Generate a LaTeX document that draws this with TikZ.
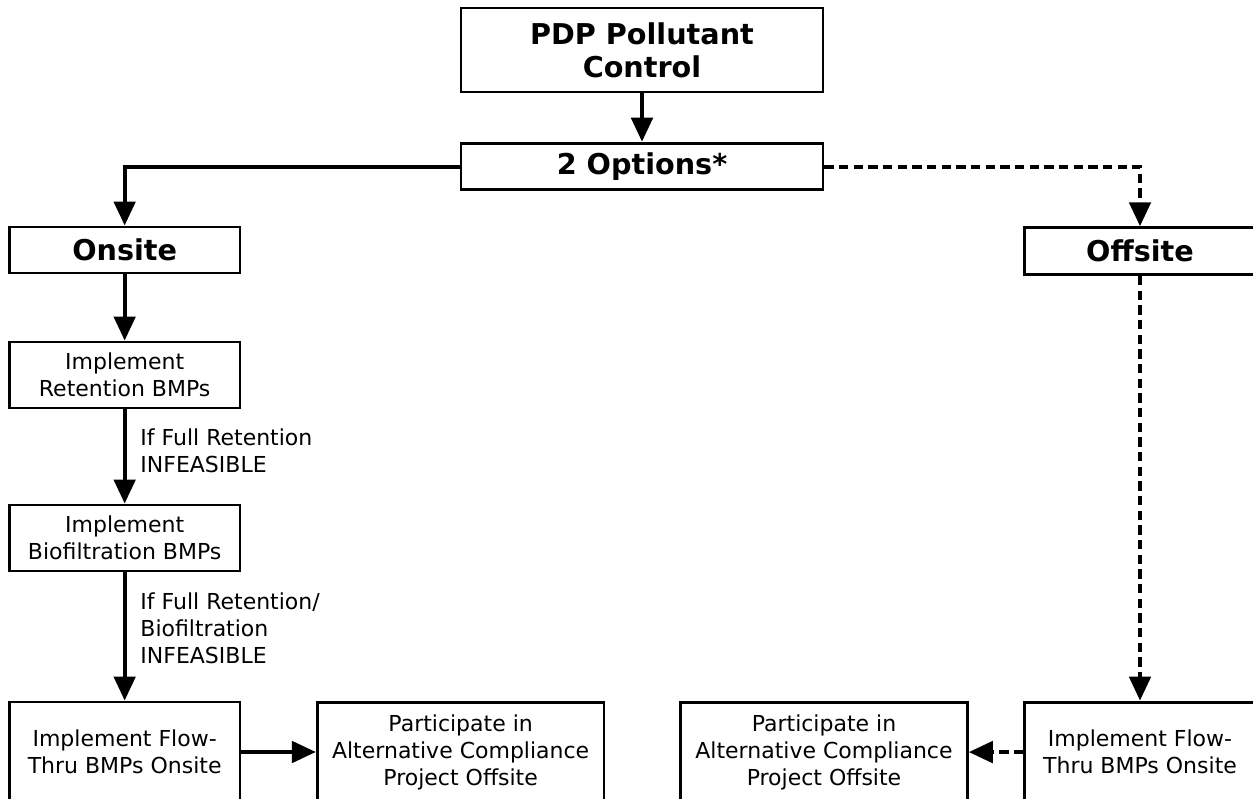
\documentclass[tikz,border=0pt]{standalone}
\usepackage{fontspec}
\setmainfont{DejaVu Sans}
\usepackage{tikz}
\usetikzlibrary{positioning, arrows.meta}
\tikzstyle{arrow} = [line width=3pt,-{Triangle[width=16pt,length=18pt]}]
\tikzstyle{darrow} = [arrow, dash pattern=on 7pt off 4pt]
\tikzstyle{hblock} = [rectangle, draw, line width=2.2pt, inner sep=0pt,
font=\fontsize{21.5}{25}\selectfont\bfseries, align=center]
\tikzstyle{sblock} = [rectangle, draw, line width=2.2pt, inner sep=0pt,
font=\fontsize{16.5}{20.25}\selectfont, align=center, minimum width=173pt]
\tikzstyle{cond} = [anchor=west, align=left, font=\fontsize{16.5}{20.25}\selectfont]

\begin{document}
\begin{tikzpicture}[x=0.75pt, y=-0.75pt]
    \useasboundingbox (0,0) rectangle (1253,799);
    \node (Control) [hblock, minimum width=271.5pt, minimum height=63pt] at (642,50) {PDP Pollutant\\Control};
    \node (Options) [hblock, minimum width=271.5pt, minimum height=35pt, below of=Control, node distance=87.4pt] {2 Options*};
    \node (Onsite) [hblock, minimum width=173pt, minimum height=34.5pt, below of=Options, node distance=62.6pt, xshift=-388pt] {Onsite};
    \node (Offsite) [hblock, minimum width=173pt, minimum height=35pt, below of=Options, node distance=63.4pt, xshift=373.5pt] {Offsite};
    \node (Retention) [sblock, minimum height=49.5pt, below of=Onsite, node distance=93.75pt] {Implement\\Retention BMPs};
    \node (Biofilt) [sblock, minimum height=49.5pt, below of=Retention, node distance=122.25pt] {Implement\\Biofiltration BMPs};
    \node (FlowOn) [sblock, minimum height=75pt, below of=Biofilt, node distance=160.5pt] {Implement Flow-\\Thru BMPs Onsite};
    \node (AltOn) [sblock, minimum width=215pt, minimum height=74pt, right of=FlowOn, node distance=252pt] {Participate in\\Alternative Compliance\\Project Offsite};
    \node (FlowOff) [sblock, minimum height=75pt, below of=Offsite, node distance=375.75pt] {Implement Flow-\\Thru BMPs Onsite};
    \node (AltOff) [sblock, minimum width=215pt, minimum height=74pt, left of=FlowOff, node distance=237pt] {Participate in\\Alternative Compliance\\Project Offsite};

    \draw [arrow] (Control) -- (Options);
    \draw [arrow] (Options.west) -| (Onsite.north);
    \draw [darrow] (Options.east) -| (Offsite.north);
    \draw [arrow] (Onsite) -- (Retention);
    \draw [arrow] (Retention) -- node[cond, xshift=7pt, yshift=4pt] {If Full Retention\\INFEASIBLE} (Biofilt);
    \draw [arrow] (Biofilt) -- node[cond, xshift=7pt, yshift=6pt] {If Full Retention/\\Biofiltration\\INFEASIBLE} (FlowOn);
    \draw [arrow] (FlowOn) -- (AltOn);
    \draw [darrow] (Offsite) -- (FlowOff);
    \draw [darrow] (FlowOff) -- (AltOff);
\end{tikzpicture}
\end{document}
